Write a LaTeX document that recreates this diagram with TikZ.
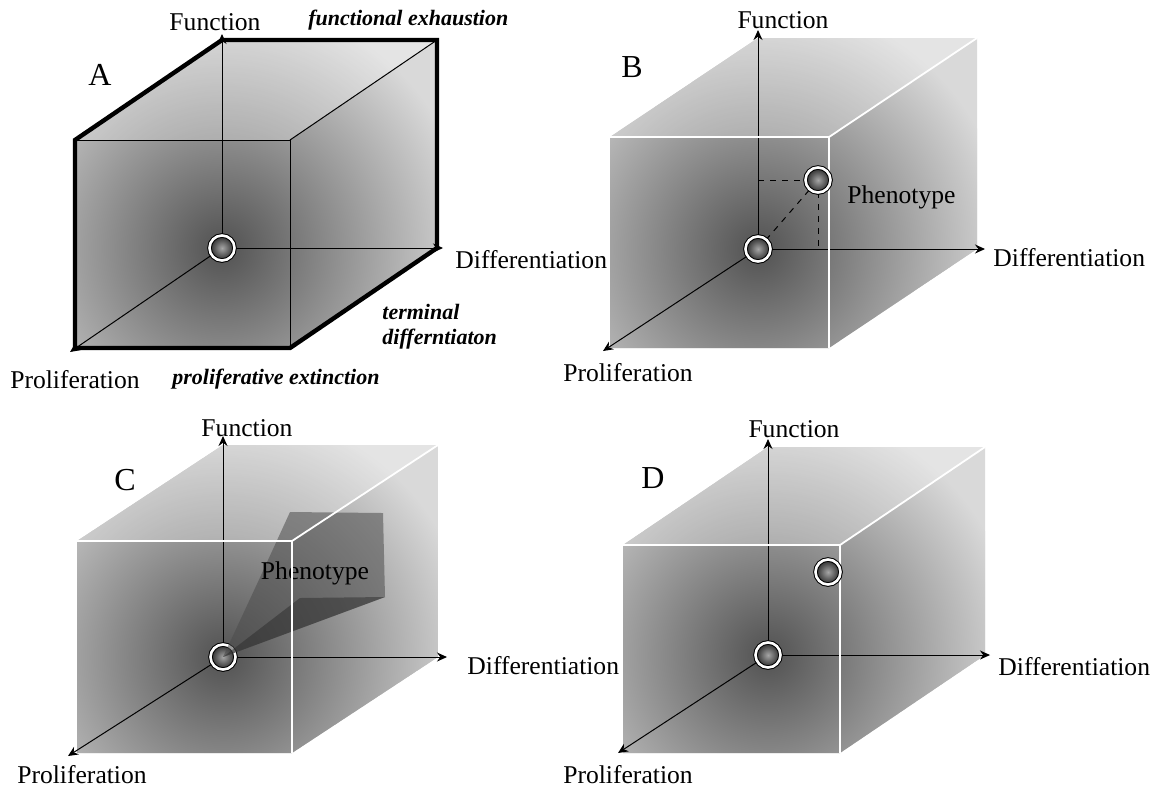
\documentclass[tikz,border=0pt]{standalone}
\usepackage{fontspec}
\setmainfont{Liberation Serif}
\usetikzlibrary{arrows.meta}
\usetikzlibrary{positioning}

\tikzset{
  axis/.style={-{Stealth[length=5pt,width=4.5pt]}, line width=0.5pt},
  rim/.style={white, line width=0.9pt},
  edge/.style={black, line width=0.5pt},
  outline/.style={black, line width=2.2pt, line join=miter},
  cellball/.style={circle, minimum size=12.5pt, inner sep=0pt, draw=black, line width=0.5pt,
    double=white, double distance=1.3pt, shade, inner color=black!35, outer color=black!85},
  axlabel/.style={font=\fontsize{12.8}{14}\selectfont, inner sep=0pt},
  fate/.style={font=\fontsize{11}{12.5}\selectfont\bfseries\itshape, inner sep=0pt, anchor=west, align=left},
  panel/.style={font=\fontsize{16}{18}\selectfont, inner sep=0pt},
}

% corners of one cube: prefix, origin x, origin y, width, height, depth x, depth y
\newcommand{\cubecorners}[7]{
  \coordinate (#1o)   at (#2,#3);
  \coordinate (#1btl) at (#2,#3-#5);
  \coordinate (#1btr) at (#2+#4,#3-#5);
  \coordinate (#1bbr) at (#2+#4,#3);
  \coordinate (#1fbl) at (#2+#6,#3+#7);
  \coordinate (#1ftl) at (#2+#6,#3-#5+#7);
  \coordinate (#1ftr) at (#2+#4+#6,#3-#5+#7);
  \coordinate (#1fbr) at (#2+#4+#6,#3+#7);
}
% grey body of one cube
\newcommand{\cubebody}[1]{
  \begin{scope}
    \clip (#1fbl) -- (#1ftl) -- (#1btl) -- (#1btr) -- (#1bbr) -- (#1fbr) -- cycle;
    \fill[black!15] (#1fbl) -- (#1ftl) -- (#1btl) -- (#1btr) -- (#1bbr) -- (#1fbr) -- cycle;
    \shade[inner color=black!68, outer color=black!15] (#1o) circle (250);
    \fill[white, opacity=0.3] (#1ftl) -- (#1btl) -- (#1btr) -- (#1ftr) -- cycle;
  \end{scope}
}

\begin{document}
\begin{tikzpicture}[x=0.5pt, y=-0.5pt]
  \useasboundingbox (0,0) rectangle (1160,789);

  %panel A
  \cubecorners{A}{222}{248}{215}{208}{-147}{100}
  \cubebody{A}
  \coordinate (Afun) at (222,34);
  \coordinate (Adiff) at (443,248);
  \coordinate (Aprol) at (70,352);
  \draw[edge] (Aftl) -- (Aftr) -- (Afbr);
  \draw[edge] (Aftr) -- (Abtr);
  \draw[axis] (Ao) -- (Afun);
  \draw[axis] (Ao) -- (Adiff);
  \draw[axis] (Ao) -- (Aprol);
  \draw[outline] (Afbl) -- (Aftl) -- (Abtl) -- (Abtr) -- (Abbr) -- (Afbr) -- cycle;
  \node[cellball] (Acell) at (Ao) {};
  \node[panel] (Aname) at (100,75) {A};
  \node[axlabel] (Afunlab) at (215,22) {Function};
  \node[axlabel, anchor=west] (Adifflab) at (455,260) {Differentiation};
  \node[axlabel] (Aprollab) at (75,380) {Proliferation};
  \node[fate] (Aexh) at (308,20) {functional exhaustion};
  \node[fate] (Aterm) at (382,327) {terminal\\differntiaton};
  \node[fate] (Aext) at (172,379) {proliferative extinction};

  %panel B
  \cubecorners{B}{758}{249}{219}{211}{-148}{99}
  \cubebody{B}
  \coordinate (Bfun) at (758,30);
  \coordinate (Bdiff) at (985,249);
  \coordinate (Bprol) at (603,351);
  \coordinate (Bp) at (818,180);
  \coordinate (Bpf) at (758,180);
  \coordinate (Bpd) at (818,249);
  \draw[axis] (Bo) -- (Bfun);
  \draw[axis] (Bo) -- (Bdiff);
  \draw[axis] (Bo) -- (Bprol);
  \draw[dashed, line width=0.5pt] (Bo) -- (Bp);
  \draw[dashed, line width=0.5pt] (Bpf) -- (Bp) -- (Bpd);
  \draw[rim] (Bftl) -- (Bftr) -- (Bfbr);
  \draw[rim] (Bftr) -- (Bbtr);
  \node[cellball] (Bcell) at (Bo) {};
  \node[cellball] (Bpcell) at (Bp) {};
  \node[axlabel, anchor=west] (Bphen) at (847,197) {Phenotype};
  \node[panel] (Bname) at (632,67) {B};
  \node[axlabel] (Bfunlab) at (783,20) {Function};
  \node[axlabel, anchor=west] (Bdifflab) at (993,258) {Differentiation};
  \node[axlabel] (Bprollab) at (628,373) {Proliferation};

  %panel C
  \cubecorners{C}{223}{657}{215}{212}{-146}{96}
  \cubebody{C}
  \coordinate (Cfun) at (223,436);
  \coordinate (Cdiff) at (447,657);
  \coordinate (Cprol) at (68,756);
  \draw[axis] (Co) -- (Cfun);
  \draw[axis] (Co) -- (Cdiff);
  \draw[axis] (Co) -- (Cprol);
  \node[cellball] (Ccell) at (Co) {};
  \fill[black!70, opacity=0.55] (Co) -- (257,584) -- (290,512) -- (383,513) -- (385,597) -- cycle;
  \fill[black!85, opacity=0.45] (Co) -- (300,598) -- (385,597) -- cycle;
  \node[axlabel] (Cphen) at (315,573) {Phenotype};
  \draw[rim] (Cftl) -- (Cftr) -- (Cfbr);
  \draw[rim] (Cftr) -- (Cbtr);
  \node[panel] (Cname) at (125,480) {C};
  \node[axlabel] (Cfunlab) at (247,428) {Function};
  \node[axlabel, anchor=west] (Cdifflab) at (467,666) {Differentiation};
  \node[axlabel] (Cprollab) at (82,775) {Proliferation};

  %panel D
  \cubecorners{D}{768}{655}{217}{208}{-145}{98}
  \cubebody{D}
  \coordinate (Dfun) at (768,439);
  \coordinate (Ddiff) at (990,655);
  \coordinate (Dprol) at (618,753);
  \coordinate (Dp) at (828,572);
  \draw[axis] (Do) -- (Dfun);
  \draw[axis] (Do) -- (Ddiff);
  \draw[axis] (Do) -- (Dprol);
  \draw[rim] (Dftl) -- (Dftr) -- (Dfbr);
  \draw[rim] (Dftr) -- (Dbtr);
  \node[cellball] (Dcell) at (Do) {};
  \node[cellball] (Dpcell) at (Dp) {};
  \node[panel] (Dname) at (653,478) {D};
  \node[axlabel] (Dfunlab) at (794,429) {Function};
  \node[axlabel, anchor=west] (Ddifflab) at (998,667) {Differentiation};
  \node[axlabel] (Dprollab) at (628,775) {Proliferation};
\end{tikzpicture}
\end{document}
